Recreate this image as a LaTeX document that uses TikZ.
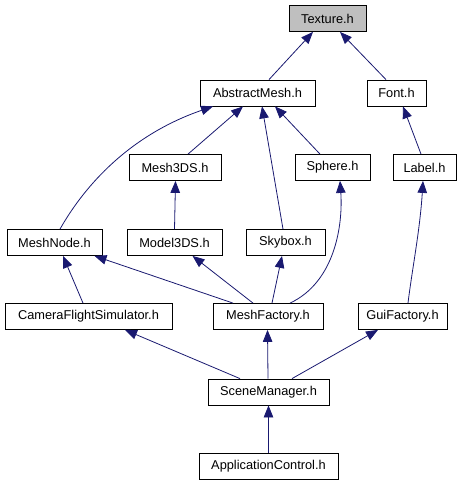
\documentclass[tikz,border=0pt]{standalone}
\usepackage{fontspec}
\setmainfont{Liberation Sans}
\usetikzlibrary{arrows.meta}
\definecolor{navy}{HTML}{191970}
\definecolor{fillgray}{HTML}{BFBFBF}
\begin{document}
\begin{tikzpicture}[x=1bp,y=-1bp,
  box/.style={draw=black, line width=0.8bp, fill=white, minimum height=26bp, inner sep=0pt, font=\fontsize{12.8bp}{14bp}\selectfont},
  edge/.style={draw=navy, line width=0.8bp, {Triangle[length=12bp,width=9.5bp]}-}]
\useasboundingbox (0,0) rectangle (463,485);
\node[box, fill=fillgray, minimum width=77bp] (tex) at (327.5,18.5) {Texture.h};
\node[box, minimum width=115bp] (am) at (257.5,93) {AbstractMesh.h};
\node[box, minimum width=59bp] (font) at (396.5,93) {Font.h};
\node[box, minimum width=92bp] (m3ds) at (175,167.5) {Mesh3DS.h};
\node[box, minimum width=75bp] (sph) at (332.5,167.5) {Sphere.h};
\node[box, minimum width=63bp] (lab) at (424.5,167.5) {Label.h};
\node[box, minimum width=95bp] (mn) at (54.5,242.5) {MeshNode.h};
\node[box, minimum width=95bp] (mod) at (174.5,242.5) {Model3DS.h};
\node[box, minimum width=79bp] (sky) at (285.5,242.5) {Skybox.h};
\node[box, minimum width=167bp] (cfs) at (88.5,316.5) {CameraFlightSimulator.h};
\node[box, minimum width=110bp] (mf) at (268,316.5) {MeshFactory.h};
\node[box, minimum width=89bp] (gf) at (402.5,316.5) {GuiFactory.h};
\node[box, minimum width=121bp] (sm) at (268.5,392) {SceneManager.h};
\node[box, minimum width=139bp] (ac) at (268.5,466) {ApplicationControl.h};

\draw[edge] ([xshift=-14.5bp]tex.south) -- ([xshift=11.5bp]am.north);
\draw[edge] ([xshift=12.5bp]tex.south) -- ([xshift=-10.5bp]font.north);
\draw[edge] ([xshift=-44.5bp]am.south) .. controls (130,135) and (85,185) .. ([xshift=5.5bp]mn.north);
\draw[edge] ([xshift=-14.5bp]am.south) -- ([xshift=13bp]m3ds.north);
\draw[edge] ([xshift=4.5bp]am.south) -- ([xshift=-2.5bp]sky.north);
\draw[edge] ([xshift=17.5bp]am.south) -- ([xshift=-12.5bp]sph.north);
\draw[edge] ([xshift=6.5bp]font.south) -- ([xshift=-3.5bp]lab.north);
\draw[edge] ([xshift=0.5bp]m3ds.south) -- (mod.north);
\draw[edge] ([xshift=-1.5bp]lab.south) .. controls (420,230) and (412,270) .. ([xshift=5.5bp]gf.north);
\draw[edge] ([xshift=8.5bp]mn.south) -- ([xshift=-5.5bp]cfs.north);
\draw[edge] ([xshift=40bp]mn.south) -- ([xshift=-35bp]mf.north);
\draw[edge] ([xshift=18bp]mod.south) -- ([xshift=-15bp]mf.north);
\draw[edge] ([xshift=-3.5bp]sky.south) -- ([xshift=4bp]mf.north);
\draw[edge] ([xshift=7.5bp]sph.south) .. controls (343,225) and (335,282) .. ([xshift=22bp]mf.north);
\draw[edge] ([xshift=36.5bp]cfs.south) -- ([xshift=-28.5bp]sm.north);
\draw[edge] ([xshift=-0.5bp]mf.south) -- (mf.south |- sm.north);
\draw[edge] ([xshift=-24.5bp]gf.south) -- ([xshift=23.5bp]sm.north);
\draw[edge] (sm.south) -- (ac.north);
\end{tikzpicture}
\end{document}
